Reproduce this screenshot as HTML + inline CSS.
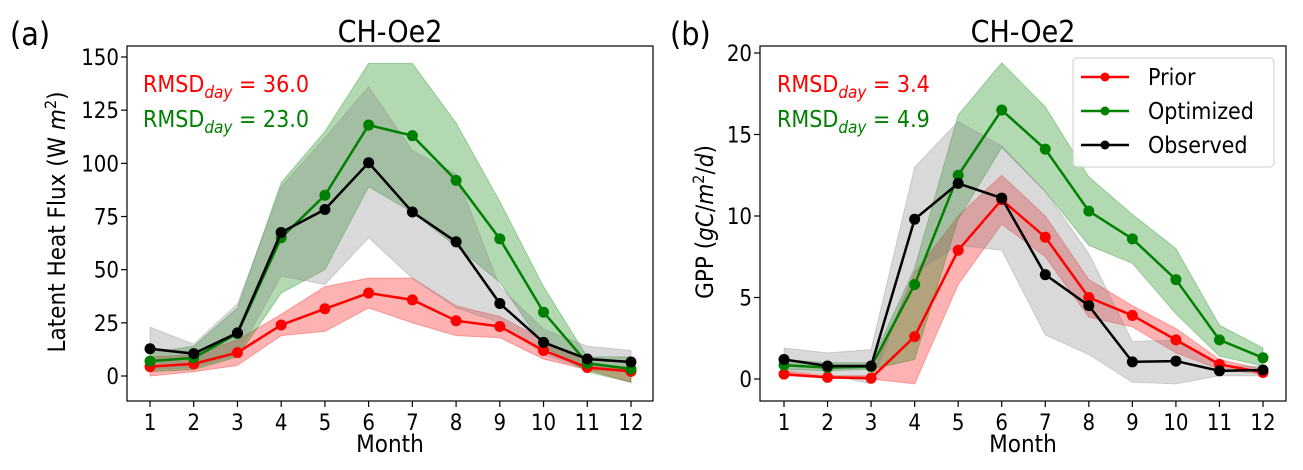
<!DOCTYPE html>
<html><head><meta charset="utf-8"><style>
body{margin:0;background:#fff;}
svg{font-family:"DejaVu Sans","Liberation Sans",sans-serif;}
.c{font-family:"DejaVu Sans Condensed","DejaVu Sans","Liberation Sans",sans-serif;font-stretch:condensed;}
</style></head><body>
<svg id="chart" width="1303" height="465" viewBox="0 0 1303 465" xmlns="http://www.w3.org/2000/svg"></svg>
<script>
const months=[1,2,3,4,5,6,7,8,9,10,11,12];
const leTicks=[0,25,50,75,100,125,150];
const gppTicks=[0,5,10,15,20];
const lePrior=[4.4,5.7,11,24,31.6,39,35.8,26,23.3,12,4,2.2];
const lePriorLo=[0,2,5,19,21,32,25,19,18,8,3,-3];
const lePriorHi=[9,10,17,29,42,46,46,33,28,17,6,4];
const leOpt=[7,8.5,20,65,85,118,113,92,64.5,30,6,3.3];
const leOptLo=[2,3,9,39,50,89,77,61,44,14,2,-3];
const leOptHi=[11,14,32,91,115,147,147,119,82,42,9,9];
const leObs=[12.8,10.5,20.3,67.5,78.3,100.3,77.1,63.1,34.1,15.8,8,6.6];
const leObsLo=[3,4,10,47,43,65,46,32,25,10,3,2];
const leObsHi=[23,15,34,89,112,136,106,95,42,22,14,12];
const gPrior=[0.3,0.1,0.05,2.6,7.9,11,8.7,5,3.9,2.4,0.9,0.4];
const gPriorLo=[0.2,0.05,0,-0.3,5.8,9.5,7.5,3.8,3.2,1.6,0.6,0.3];
const gPriorHi=[0.5,0.2,0.2,6.5,10,12.5,10,6.1,4.5,3.1,1.2,0.6];
const gOpt=[0.85,0.7,0.75,5.8,12.5,16.5,14.1,10.3,8.6,6.1,2.4,1.3];
const gOptLo=[0.6,0.5,0.6,1.2,9.8,14.2,11.5,8.2,7.1,4,1.4,0.8];
const gOptHi=[1.2,1,1,6.8,16.2,19.4,16.7,12.4,10.1,8,3.3,1.9];
const gObs=[1.2,0.8,0.8,9.8,12,11.1,6.4,4.5,1.05,1.1,0.5,0.55];
const gObsLo=[0.5,0.3,-0.3,6.5,8.2,7.9,2.7,1.5,-0.2,-0.3,0.2,0.2];
const gObsHi=[1.9,1.6,1.8,13,15.8,14.3,11.5,7.7,2.3,2.4,0.8,0.8];

const NS="http://www.w3.org/2000/svg";
const svg=document.getElementById('chart');
function mk(tag,attrs,parent){const e=document.createElementNS(NS,tag);for(const k in attrs)e.setAttribute(k,attrs[k]);(parent||svg).appendChild(e);return e;}

function panel(cfg){
  const g=mk('g',{});
  
  
  const xs=m=>cfg.x1+(m-1)*(cfg.x12-cfg.x1)/11;
  const ys=v=>cfg.y0+v*(cfg.yTop-cfg.y0)/cfg.topVal;
  const bands=[[cfg.priorLo,cfg.priorHi,'rgba(255,0,0,0.3)','prior-band'],[cfg.optLo,cfg.optHi,'rgba(0,128,0,0.3)','optimized-band'],[cfg.obsLo,cfg.obsHi,'rgba(128,128,128,0.3)','observed-band']];
  bands.forEach(b=>{
    let d='M'+months.map((m,i)=>xs(m)+','+ys(b[1][i])).join(' L');
    d+=' L'+months.slice().reverse().map((m,k)=>{const i=11-k;return xs(m)+','+ys(b[0][i]);}).join(' L')+' Z';
    const p=mk('path',{d:d,fill:b[2],stroke:b[2],'stroke-width':1},g);
    
    
  });
  [[cfg.prior,'#ff0000','prior'],[cfg.opt,'#008000','optimized'],[cfg.obs,'#000000','observed']].forEach(s=>{
    const pl=mk('polyline',{points:months.map((m,i)=>xs(m)+','+ys(s[0][i])).join(' '),fill:'none',stroke:s[1],'stroke-width':2.5},g);
    
    
    months.forEach((m,i)=>{
      const c=mk('circle',{cx:xs(m),cy:ys(s[0][i]),r:5.5,fill:s[1]},g);
      
      
    });
  });
  const box=mk('rect',{x:cfg.L,y:46,width:cfg.R-cfg.L,height:355,fill:'none',stroke:'#000','stroke-width':1.2},g);
  
  
  months.forEach(m=>{
    mk('line',{x1:xs(m),x2:xs(m),y1:401,y2:407,stroke:'#000','stroke-width':1.2},g);
    const t=mk('text',{x:xs(m),y:430,'font-size':22,'text-anchor':'middle','class':'c'},g);
    t.textContent=m;
    
    
  });
  cfg.ticks.forEach(v=>{
    mk('line',{x1:cfg.L-6,x2:cfg.L,y1:ys(v),y2:ys(v),stroke:'#000','stroke-width':1.2},g);
    const t=mk('text',{x:cfg.L-8,y:ys(v)+8,'font-size':22,'text-anchor':'end','class':'c'},g);
    t.textContent=v;
    
    
  });
}
panel({name:'panel-a',L:127,R:653,x1:150,x12:631,y0:376,yTop:57,topVal:150,ticks:leTicks,
  prior:lePrior,priorLo:lePriorLo,priorHi:lePriorHi,opt:leOpt,optLo:leOptLo,optHi:leOptHi,obs:leObs,obsLo:leObsLo,obsHi:leObsHi});
panel({name:'panel-b',L:760,R:1286,x1:784,x12:1263,y0:379,yTop:53,topVal:20,ticks:gppTicks,
  prior:gPrior,priorLo:gPriorLo,priorHi:gPriorHi,opt:gOpt,optLo:gOptLo,optHi:gOptHi,obs:gObs,obsLo:gObsLo,obsHi:gObsHi});
</script>
<svg style="position:absolute;left:0;top:0" width="1303" height="465" xmlns="http://www.w3.org/2000/svg" font-family="DejaVu Sans, Liberation Sans, sans-serif">
  <text x="10" y="45" font-size="32" class="c">(a)</text>
  <text x="670" y="45" font-size="32" class="c">(b)</text>
  <text x="390" y="42" font-size="30" text-anchor="middle" class="c">CH-Oe2</text>
  <text x="1023" y="42" font-size="30" text-anchor="middle" class="c">CH-Oe2</text>
  <text x="390" y="452" font-size="24" text-anchor="middle" class="c">Month</text>
  <text x="1023" y="452" font-size="24" text-anchor="middle" class="c">Month</text>
  <text transform="translate(65,222) rotate(-90)" font-size="24" text-anchor="middle" class="c">Latent Heat Flux (W <tspan font-style="italic">m</tspan><tspan font-size="16" dy="-9">2</tspan><tspan dy="9">)</tspan></text>
  <text transform="translate(713,222) rotate(-90)" font-size="24" text-anchor="middle" class="c">GPP (<tspan font-style="italic">gC</tspan>/<tspan font-style="italic">m</tspan><tspan font-size="16" dy="-9">2</tspan><tspan dy="9">/</tspan><tspan font-style="italic">d</tspan>)</text>
  <text x="143" y="92" font-size="23" fill="#ff0000" class="c">RMSD<tspan font-size="17" font-style="italic" dy="6">day</tspan><tspan dy="-6"> = 36.0</tspan></text>
  <text x="143" y="127" font-size="23" fill="#008000" class="c">RMSD<tspan font-size="17" font-style="italic" dy="6">day</tspan><tspan dy="-6"> = 23.0</tspan></text>
  <text x="777" y="92" font-size="23" fill="#ff0000" class="c">RMSD<tspan font-size="17" font-style="italic" dy="6">day</tspan><tspan dy="-6"> = 3.4</tspan></text>
  <text x="777" y="127" font-size="23" fill="#008000" class="c">RMSD<tspan font-size="17" font-style="italic" dy="6">day</tspan><tspan dy="-6"> = 4.9</tspan></text>
  <g>
    <rect x="1073" y="58" width="201" height="109" rx="4" fill="#fff" fill-opacity="0.85" stroke="#ccc"/>
    <g><line x1="1081" x2="1129" y1="77" y2="77" stroke="#f00" stroke-width="2.5"/><circle cx="1105" cy="77" r="4.5" fill="#f00"/><text x="1148" y="85" font-size="23" class="c">Prior</text></g>
    <g><line x1="1081" x2="1129" y1="111" y2="111" stroke="#008000" stroke-width="2.5"/><circle cx="1105" cy="111" r="4.5" fill="#008000"/><text x="1148" y="119" font-size="23" class="c">Optimized</text></g>
    <g><line x1="1081" x2="1129" y1="145" y2="145" stroke="#000" stroke-width="2.5"/><circle cx="1105" cy="145" r="4.5" fill="#000"/><text x="1148" y="153" font-size="23" class="c">Observed</text></g>
  </g>
</svg>
</body></html>
